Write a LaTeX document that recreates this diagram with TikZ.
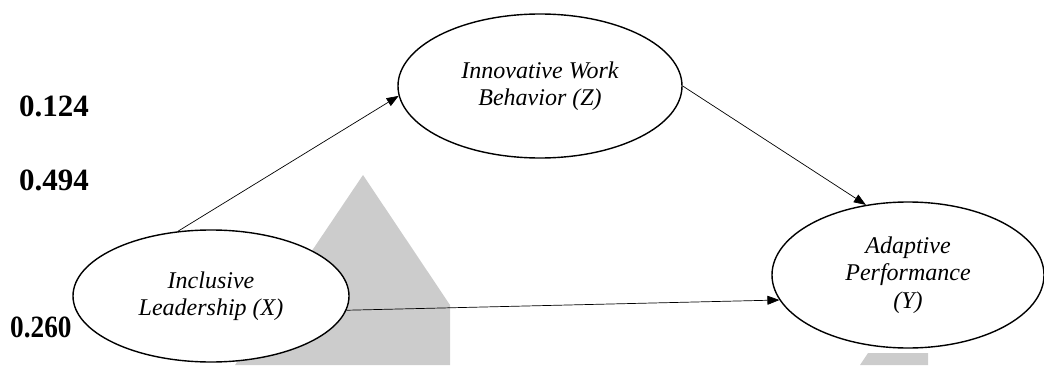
\documentclass[tikz,border=0pt]{standalone}
\usepackage{fontspec}
\setmainfont{Liberation Serif}
\usetikzlibrary{positioning,arrows.meta,shapes}
\tikzset{
  ->, >={Triangle[length=12pt,width=9pt]},
  x=1pt, y=1pt,
  latent/.style={ellipse, draw, line width=1.4pt, fill=white, inner sep=0pt,
    align=center, font=\fontsize{24}{27.5}\selectfont\itshape},
  coef/.style={anchor=west, inner sep=0pt, font=\fontsize{31}{31}\selectfont\bfseries},
  path/.style={line width=0.7pt},
}

\begin{document}
\begin{tikzpicture}
  \useasboundingbox (0,0) rectangle (1044,365);

  % Background marks
  \fill[gray!40] (363,190) -- (450,60) -- (450,0) -- (235,0) -- cycle;
  \fill[gray!40] (860,0) -- (868,12) -- (928,12) -- (928,0) -- cycle;

  % Constructs
  \node[latent, minimum width=284pt, minimum height=144pt] (Z) at (540,279)
    {Innovative Work\\Behavior (Z)};
  \node[latent, minimum width=276pt, minimum height=132pt, on grid,
    below left=210pt and 329pt of Z] (X) {Inclusive\\Leadership (X)};
  \node[latent, minimum width=272pt, minimum height=146pt, on grid,
    below right=189pt and 368pt of Z] (Y) {Adaptive\\Performance\\(Y)};

  % Coefficients
  \node[coef] (c1) at (19,259) {0.124};
  \node[coef] (c2) at (19,185) {0.494};
  \node[coef] (c3) at (10,38) {\scalebox{0.88}[1]{0.260}};

  % Paths
  \draw[path] (X.117) -- (Z.184);
  \draw[path] (Z.east) -- (Y.121);
  \draw[path] (X.354) -- (Y.191);
\end{tikzpicture}
\end{document}
